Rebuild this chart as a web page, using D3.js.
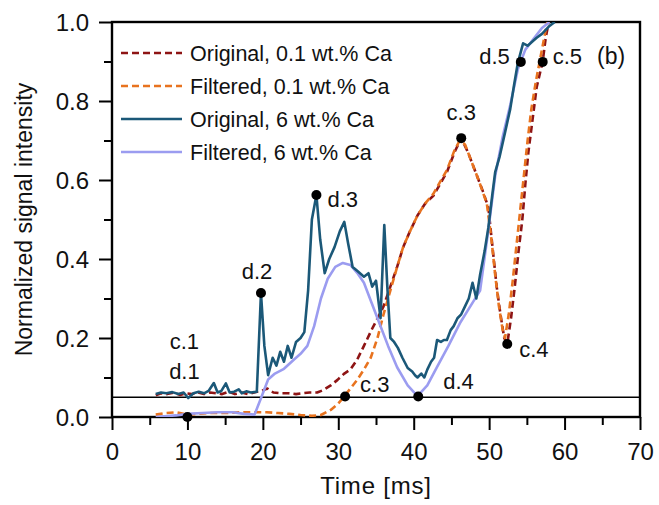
<!DOCTYPE html>
<html>
<head>
<meta charset="utf-8">
<script src="https://cdn.jsdelivr.net/npm/d3@7"></script>
<style>
  body { margin: 0; background: #fff; }
  svg text { font-family: "Liberation Sans", Arial, sans-serif; fill: #111; }
</style>
</head>
<body>
<svg id="chart"></svg>
<script>
// Original signal, 0.1 wt.% Ca
const timeOrig01 = [5.8, 6.5, 7.3, 8.2, 9, 9.8, 10.6, 11.4, 12.2, 13, 13.8, 14.6, 15.5, 16.3, 17.2, 18, 18.8, 19.8, 20.6, 21.4, 22.4, 23.4, 24.4, 25.2, 26.2, 27.2, 28, 29, 29.9, 30.8, 31.6, 32.5, 33.4, 34.4, 35.2, 36, 36.9, 37.8, 38.6, 39.5, 40.5, 41.5, 42.6, 43.5, 44.4, 45.4, 46.3, 47.2, 48.2, 49.2, 49.9, 50.5, 51, 51.5, 52, 52.4, 52.9, 53.4, 53.9, 54.4, 54.8, 55.2, 55.8, 56.3, 57.1, 57.5, 57.9];
const sigOrig01 = [0.055, 0.06, 0.058, 0.062, 0.056, 0.06, 0.058, 0.062, 0.058, 0.062, 0.06, 0.058, 0.064, 0.058, 0.062, 0.058, 0.062, 0.066, 0.072, 0.062, 0.06, 0.06, 0.058, 0.06, 0.062, 0.062, 0.068, 0.08, 0.094, 0.11, 0.12, 0.145, 0.18, 0.22, 0.25, 0.28, 0.33, 0.38, 0.43, 0.47, 0.51, 0.54, 0.56, 0.59, 0.62, 0.67, 0.706, 0.67, 0.62, 0.57, 0.53, 0.42, 0.33, 0.26, 0.2, 0.185, 0.25, 0.33, 0.42, 0.5, 0.59, 0.67, 0.76, 0.835, 0.9, 0.96, 1.0];

// Filtered signal, 0.1 wt.% Ca
const timeFilt01 = [5.8, 7, 8.5, 10, 11.5, 13, 15, 17, 19, 20.5, 22, 23.5, 25, 26.5, 27.7, 29, 29.9, 30.7, 31.6, 32.5, 33.4, 34.3, 35.2, 36, 36.9, 37.8, 38.6, 39.5, 40.5, 41.5, 42.6, 43.5, 44.4, 45.4, 46.1, 46.8, 47.6, 48.6, 49.7, 50.3, 50.8, 51.3, 51.8, 52.1, 52.6, 53.1, 53.6, 54.1, 54.6, 55.1, 55.6, 56.2, 56.8, 57.3, 57.7];
const sigFilt01 = [0.006, 0.01, 0.012, 0.006, 0.008, 0.01, 0.01, 0.012, 0.012, 0.012, 0.01, 0.008, 0.005, 0.003, 0.005, 0.018, 0.032, 0.05, 0.072, 0.094, 0.12, 0.15, 0.2, 0.26, 0.32, 0.38, 0.43, 0.47, 0.51, 0.54, 0.565, 0.595, 0.625, 0.675, 0.7, 0.69, 0.65, 0.6, 0.54, 0.45, 0.36, 0.28, 0.22, 0.2, 0.26, 0.34, 0.43, 0.52, 0.61, 0.7, 0.78, 0.85, 0.91, 0.96, 1.0];

// Original signal, 6 wt.% Ca
const timeOrig6 = [5.8, 6.5, 7.2, 8, 8.8, 9.5, 10.1, 10.8, 11.5, 12.2, 12.8, 13.5, 14, 14.5, 15.1, 15.6, 16.2, 16.8, 17.2, 17.8, 18.4, 19.2, 19.75, 20.2, 20.7, 21.3, 21.8, 22.3, 22.8, 23.3, 23.8, 24.4, 25, 25.5, 26, 26.5, 27.1, 27.6, 28.2, 28.8, 29.5, 30.2, 30.8, 31.3, 31.9, 32.5, 33.4, 34, 34.5, 35, 35.6, 36.1, 36.5, 36.9, 37.4, 37.9, 38.5, 39.2, 39.8, 40.2, 40.5, 41, 41.4, 41.8, 42.3, 42.7, 43.1, 43.6, 44, 44.4, 44.9, 45.3, 45.8, 46.3, 46.8, 47.3, 47.8, 48.3, 48.8, 49.4, 49.9, 50.4, 50.8, 51.4, 52.1, 52.8, 53.3, 53.8, 54.5, 55.1, 55.7, 56.3, 57, 57.5, 58, 58.7];
const sigOrig6 = [0.058, 0.062, 0.06, 0.063, 0.058, 0.062, 0.048, 0.06, 0.064, 0.06, 0.066, 0.086, 0.062, 0.066, 0.085, 0.062, 0.064, 0.07, 0.06, 0.065, 0.062, 0.064, 0.314, 0.18, 0.106, 0.15, 0.13, 0.165, 0.14, 0.18, 0.15, 0.19, 0.2, 0.215, 0.32, 0.5, 0.562, 0.45, 0.364, 0.4, 0.43, 0.47, 0.494, 0.44, 0.38, 0.37, 0.355, 0.364, 0.33, 0.345, 0.25, 0.486, 0.33, 0.2, 0.19, 0.175, 0.15, 0.124, 0.115, 0.105, 0.1, 0.11, 0.1, 0.12, 0.14, 0.15, 0.195, 0.19, 0.195, 0.195, 0.22, 0.23, 0.25, 0.26, 0.28, 0.3, 0.34, 0.3, 0.36, 0.42, 0.48, 0.56, 0.62, 0.66, 0.72, 0.78, 0.84, 0.896, 0.946, 0.94, 0.95, 0.96, 0.97, 0.98, 0.99, 1.0];

// Filtered signal, 6 wt.% Ca
const timeFilt6 = [5.8, 7, 8.5, 10, 12, 14, 16, 17.5, 18.9, 19.8, 20.7, 21.6, 22.8, 24.1, 25, 25.9, 26.8, 27.7, 28.6, 29.6, 30.6, 31.6, 32.5, 33.4, 34.4, 35.4, 36.6, 37.8, 39.2, 40.5, 41.8, 43.1, 44.6, 46.2, 47.5, 48.8, 49.8, 50.8, 51.8, 52.8, 53.8, 54.8, 56, 57, 58];
const sigFilt6 = [0.0, 0.002, 0.004, 0.008, 0.01, 0.012, 0.012, 0.008, 0.006, 0.05, 0.095, 0.11, 0.122, 0.145, 0.16, 0.18, 0.23, 0.3, 0.35, 0.38, 0.39, 0.385, 0.365, 0.34, 0.29, 0.24, 0.18, 0.126, 0.08, 0.053, 0.08, 0.127, 0.18, 0.24, 0.28, 0.32, 0.46, 0.61, 0.71, 0.79, 0.88, 0.93, 0.96, 0.985, 1.0];

// Marked points and their labels
const markTime = [10, 19.75, 27.1, 30.9, 40.6, 46.3, 52.4, 54.2, 57.1];
const markValue = [0, 0.314, 0.562, 0.052, 0.052, 0.706, 0.185, 0.899, 0.899];
const markLabel = ["c.1\nd.1", "d.2", "d.3", "c.3", "d.4", "c.3", "c.4", "d.5", "c.5"];

const seriesNames = ["Original, 0.1 wt.% Ca", "Filtered, 0.1 wt.% Ca", "Original, 6 wt.% Ca", "Filtered, 6 wt.% Ca"];
const xTicks = [0, 10, 20, 30, 40, 50, 60, 70];
const yTicks = [0, 0.2, 0.4, 0.6, 0.8, 1.0];
const thresholdValue = 0.05;
const panelTag = "(b)";

const width = 659, height = 505;
const margin = {top: 22, right: 19, bottom: 88, left: 112};
const innerW = width - margin.left - margin.right;
const innerH = height - margin.top - margin.bottom;

const svg = d3.select("#chart").attr("width", width).attr("height", height);
const g = svg.append("g").attr("transform", `translate(${margin.left},${margin.top})`);

const xScale = d3.scaleLinear().domain([0, 70]).range([0, innerW]);
const yScale = d3.scaleLinear().domain([0, 1]).range([innerH, 0]);

// clip so the curves stop at the top of the frame
svg.append("defs").append("clipPath").attr("id", "plotClip")
    .append("rect").attr("width", innerW).attr("height", innerH);

// axes: major ticks labelled, minor ticks in between
const xMinor = d3.axisBottom(xScale).tickValues(d3.range(5, 70, 10)).tickSize(8).tickFormat("");
const xMajor = d3.axisBottom(xScale).tickValues(xTicks).tickSize(13).tickPadding(13).tickFormat(d3.format("d"));
const yMinor = d3.axisLeft(yScale).tickValues(d3.range(0.1, 1, 0.2)).tickSize(8).tickFormat("");
const yMajor = d3.axisLeft(yScale).tickValues(yTicks).tickSize(13).tickPadding(10).tickFormat(d3.format(".1f"));

g.append("g").attr("transform", `translate(0,${innerH})`).call(xMinor);
g.append("g").attr("class", "x-axis").attr("transform", `translate(0,${innerH})`).call(xMajor);
g.append("g").call(yMinor);
g.append("g").attr("class", "y-axis").call(yMajor);

g.selectAll(".domain").remove();
g.selectAll(".tick line").attr("stroke", "#000").attr("stroke-width", 2);
g.selectAll(".x-axis text").style("font-size", "24px").attr("fill", "#111");
g.selectAll(".y-axis text").style("font-size", "24px").attr("fill", "#111").attr("dy", "0.36em");

// frame
g.append("rect")
    .attr("width", innerW).attr("height", innerH)
    .attr("fill", "none").attr("stroke", "#000").attr("stroke-width", 2.4);

// threshold line
g.append("line")
    .attr("x1", 0).attr("x2", innerW)
    .attr("y1", yScale(thresholdValue)).attr("y2", yScale(thresholdValue))
    .attr("stroke", "#000").attr("stroke-width", 1.4);

const line = d3.line().x(d => xScale(d[0])).y(d => yScale(d[1]));
const zip = (a, b) => a.map((t, i) => [t, b[i]]);

const series = [
    {data: zip(timeOrig01, sigOrig01), color: "#8e1414", dash: "7,4"},
    {data: zip(timeFilt01, sigFilt01), color: "#e8731f", dash: "7,4"},
    {data: zip(timeFilt6, sigFilt6), color: "#9b9cf0", dash: null},
    {data: zip(timeOrig6, sigOrig6), color: "#1b5878", dash: null}
];

const marks = g.append("g").attr("clip-path", "url(#plotClip)");
series.forEach(s => {
    marks.append("path")
        .datum(s.data)
        .attr("d", line)
        .attr("fill", "none")
        .attr("stroke", s.color)
        .attr("stroke-width", 2.6)
        .attr("stroke-linejoin", "round")
        .attr("stroke-dasharray", s.dash);
});

// marked points
g.selectAll(".mark-dot")
    .data(markTime)
    .join("circle")
    .attr("class", "mark-dot")
    .attr("cx", d => xScale(d))
    .attr("cy", (d, i) => yScale(markValue[i]))
    .attr("r", 5)
    .attr("fill", "#000");

// label offsets from the dot (pixels) and anchors
const labelOffset = [[-3, -68], [-4, -14], [11, 12], [15, -4], [25, -7], [0, -18], [12, 13], [-11, 2], [10, 2]];
const labelAnchor = ["middle", "middle", "start", "start", "start", "middle", "start", "end", "start"];

markLabel.forEach((lab, i) => {
    const t = g.append("text")
        .attr("x", xScale(markTime[i]) + labelOffset[i][0])
        .attr("y", yScale(markValue[i]) + labelOffset[i][1])
        .attr("text-anchor", labelAnchor[i])
        .style("font-size", "22px");
    lab.split("\n").forEach((part, k) => {
        t.append("tspan")
            .attr("x", xScale(markTime[i]) + labelOffset[i][0])
            .attr("dy", k === 0 ? 0 : 30)
            .text(part);
    });
});

g.append("text")
    .attr("x", 485).attr("y", 42)
    .style("font-size", "23px")
    .text(panelTag);

// legend
const legendColors = ["#8e1414", "#e8731f", "#1b5878", "#9b9cf0"];
const legendDash = ["7,4", "7,4", null, null];
const legend = g.append("g").attr("transform", "translate(9,31)");
seriesNames.forEach((name, i) => {
    const row = legend.append("g").attr("transform", `translate(0,${i * 33})`);
    row.append("line")
        .attr("x1", 0).attr("x2", 61)
        .attr("stroke", legendColors[i])
        .attr("stroke-width", 2.6)
        .attr("stroke-dasharray", legendDash[i]);
    row.append("text")
        .attr("x", 69).attr("dy", "0.36em")
        .style("font-size", "21.5px")
        .text(name);
});

// axis titles
svg.append("text")
    .attr("x", margin.left + xScale(35)).attr("y", 494)
    .attr("text-anchor", "middle")
    .style("font-size", "24px")
    .style("letter-spacing", "0.8px")
    .text("Time [ms]");

svg.append("text")
    .attr("transform", `translate(32,${margin.top + innerH / 2}) rotate(-90)`)
    .attr("text-anchor", "middle")
    .style("font-size", "23px")
    .text("Normalized signal intensity");
</script>
</body>
</html>
